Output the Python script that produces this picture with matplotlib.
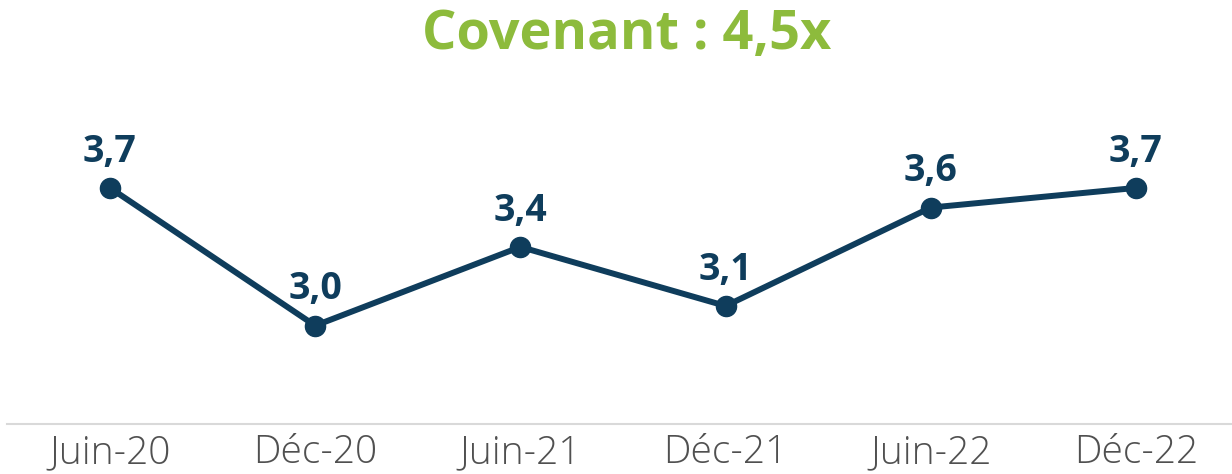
import matplotlib
matplotlib.use('Agg')
import matplotlib.pyplot as plt

periods = ['Juin-20', 'Déc-20', 'Juin-21', 'Déc-21', 'Juin-22', 'Déc-22']
ratio = [3.7, 3.0, 3.4, 3.1, 3.6, 3.7]
labels = ['3,7', '3,0', '3,4', '3,1', '3,6', '3,7']
title = 'Covenant : 4,5x'

navy = '#0f3d5c'
green = '#8dbb3c'

fig = plt.figure(figsize=(12.32, 4.74), dpi=100)
ax = fig.add_axes([0, 50/474, 1, 424/474])

x = list(range(len(periods)))
ax.plot(x, ratio, '-o', color=navy, lw=4.3, ms=14.5, solid_capstyle='round', zorder=3)
for xi, yi, lab in zip(x, ratio, labels):
    ax.annotate(lab, (xi, yi), xytext=(0, 19), textcoords='offset points',
                ha='center', va='baseline', fontsize=27, fontweight='bold',
                color=navy, family=['Open Sans', 'DejaVu Sans'])

ax.set_xlim(-0.536, 5.468)
ax.set_ylim(2.5, 4.655)
for s in ['top', 'right', 'left']:
    ax.spines[s].set_visible(False)
ax.spines['bottom'].set_color('#d9d9d9')
ax.spines['bottom'].set_linewidth(1.5)
ax.spines['bottom'].set_bounds(-0.5, 5.468)
ax.set_yticks([])
ax.set_xticks(x)
ax.set_xticklabels(periods, fontsize=28, color='#505050', fontweight='light',
                   family=['Open Sans', 'DejaVu Sans'])
ax.tick_params(axis='x', length=0, pad=7)

fig.text(627/1232, 1 - 35/474, title, ha='center', va='center', fontsize=39,
         fontweight='bold', color=green, family=['Open Sans', 'DejaVu Sans'])

fig.savefig('out.png', dpi=100)
